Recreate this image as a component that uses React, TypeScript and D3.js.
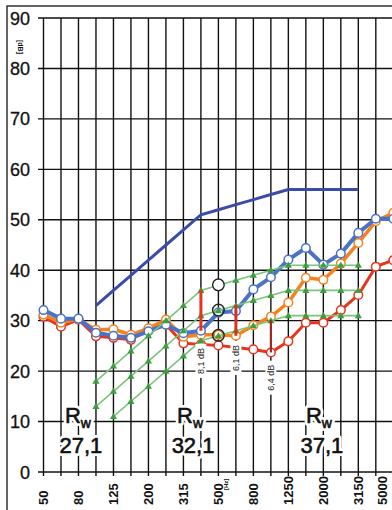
import React from "react";
import * as d3 from "d3";

// ---- data ----
const bands = ["50","63","80","100","125","160","200","250","315","400","500","630","800","1000","1250","1600","2000","2500","3150","4000","5000"];
const labeledBands = ["50","80","125","200","315","500","800","1250","2000","3150","5000"];
const yTicks = [0,10,20,30,40,50,60,70,80,90];

const blueMeasured = [32.1,30.4,30.4,27.6,27.0,26.6,27.9,29.2,27.5,28.0,31.6,31.9,36.2,38.6,42.1,44.4,41.1,43.3,47.4,50.2,50.2];
const orangeMeasured = [31.2,29.6,30.3,28.2,28.3,27.2,28.5,30.2,26.8,27.2,27.2,27.0,29.1,30.8,33.6,38.5,38.1,41.3,45.4,49.7,51.4];
const redMeasured = [30.8,28.8,30.2,26.9,26.6,26.2,28.3,29.2,25.5,25.3,25.1,24.7,24.3,23.7,25.9,29.6,29.6,32.1,35.1,40.7,42.0];

const refBands = ["100","125","160","200","250","315","400","500","630","800","1000","1250","1600","2000","2500","3150"];
const refCurve = [33,36,39,42,45,48,51,52,53,54,55,56,56,56,56,56];
const greenTop = [18,21,24,27,30,33,36,37,38,39,40,41,41,41,41,41];
const greenMid = [13,16,19,22,25,28,31,32,33,34,35,36,36,36,36,36];
const lowBands = ["125","160","200","250","315","400","500","630","800","1000","1250","1600","2000","2500","3150"];
const greenLow = [11,14,17,20,23,26,27,28,29,30,31,31,31,31,31];

const rwLabels = ["27,1","32,1","37,1"];
const rwPos = [2.14, 8.55, 15.92]; // band index position of label centre
const rwCircles = [37.1, 32.1, 27.1]; // at 500 Hz

const devBands = ["400","630","1000"];
const devTop = [36.1, 33.1, 30.1];
const devBottom = [28.0, 27.0, 23.7];
const devLabels = ["8,1 dB","6,1 dB","6,4 dB"];
const devLabelDb = [22.0, 22.6, 18.7];
const devColors = ["#e8321e","#dc2e24","#a02820"];

// ---- layout ----
const W = 392, H = 510;
const FONT = "'Liberation Sans', Arial, sans-serif";

export default function App() {
  const x = d3.scalePoint<string>().domain(bands).range([43.5, 393.3]);
  const xi = d3.scaleLinear().domain([0, bands.length - 1]).range([43.5, 393.3]);
  const y = d3.scaleLinear().domain([0, 90]).range([472, 18]);

  const lineB = d3.line<[string, number]>().x(d => x(d[0]) as number).y(d => y(d[1]));
  const zip = (bs: string[], vs: number[]) => bs.map((b, i) => [b, vs[i]] as [string, number]);

  const tri = d3.symbol().type(d3.symbolTriangle).size(22)() as string;

  const measured = [
    { vals: redMeasured, color: "#e8341c", w: 3 },
    { vals: orangeMeasured, color: "#f5821f", w: 3.5 },
    { vals: blueMeasured, color: "#4a72c6", w: 4 },
  ];
  const greens = [
    { bs: refBands, vals: greenTop },
    { bs: refBands, vals: greenMid },
    { bs: lowBands, vals: greenLow },
  ];

  const rwText = (cx: number, l: string, halo: boolean) => (
    <g
      fill={halo ? "#fff" : "#111"}
      stroke={halo ? "#fff" : "#111"}
      strokeWidth={halo ? 6 : 0.6}
      strokeLinejoin="round"
    >
      <text x={cx - 3} y={423} fontSize={22} textAnchor="middle">
        R<tspan fontSize={14} dy={5}>w</tspan>
      </text>
      <text x={cx} y={453} fontSize={22} textAnchor="middle">{l}</text>
    </g>
  );

  return (
    <svg width={W} height={H} style={{ position: "absolute", left: 0, top: 0, background: "#fff" }} fontFamily={FONT}>
      <rect x={0} y={0} width={W} height={H} fill="#fff" />
      {/* frame */}
      <rect x={7} y={6} width={W + 20} height={H + 20} fill="none" stroke="#333" strokeWidth={1.5} />
      {/* horizontal grid */}
      {yTicks.map(t => (
        <line key={"h" + t} x1={38} x2={W} y1={y(t)} y2={y(t)} stroke="#111" strokeWidth={1.4} />
      ))}
      {/* vertical grid */}
      {bands.map(b => (
        <line key={"v" + b} x1={x(b)} x2={x(b)} y1={y(90)} y2={y(0) + 4} stroke="#111" strokeWidth={1.4} />
      ))}
      {/* y labels */}
      {yTicks.map(t => (
        <text key={"yl" + t} x={30} y={y(t) + 6.5} fontSize={18} textAnchor="end" fill="#111" stroke="#111" strokeWidth={0.3}>{t}</text>
      ))}
      <text transform={`translate(18,40) rotate(90)`} fontSize={7} fontWeight="bold" fill="#111">[dB]</text>
      {/* x labels */}
      {labeledBands.map(b => {
        const px = Math.min(x(b) as number, 382);
        return (
          <text key={"xl" + b} transform={`translate(${px + 4.5},505) rotate(-90)`} fontSize={13} fontWeight="bold" fill="#111">{b}</text>
        );
      })}
      <text transform={`translate(${(x("500") as number) + 10},490) rotate(-90)`} fontSize={6} fontWeight="bold" fill="#111">[Hz]</text>

      {/* Rw labels with white halo */}
      {rwLabels.map((l, i) => (
        <g key={"rw" + i}>
          {rwText(xi(rwPos[i]), l, true)}
          {rwText(xi(rwPos[i]), l, false)}
        </g>
      ))}

      {/* reference curve */}
      <path d={lineB(zip(refBands, refCurve)) as string} fill="none" stroke="#3a4ba8" strokeWidth={3} />

      {/* measured curves */}
      {measured.map((m, k) => (
        <g key={"m" + k}>
          <path d={lineB(zip(bands, m.vals)) as string} fill="none" stroke={m.color} strokeWidth={m.w} strokeLinejoin="round" />
          {bands.map((b, i) => (
            <circle key={b} cx={x(b)} cy={y(m.vals[i])} r={4.3} fill="#fff" stroke={m.color} strokeWidth={1.5} />
          ))}
        </g>
      ))}

      {/* green shifted reference curves */}
      {greens.map((g, k) => (
        <g key={"g" + k}>
          <path d={lineB(zip(g.bs, g.vals)) as string} fill="none" stroke="#7cc47c" strokeWidth={1.6} />
          {g.bs.map((b, i) => (
            <path key={b} d={tri} transform={`translate(${x(b)},${y(g.vals[i]) + 0.5})`} fill="#3e9e3e" />
          ))}
        </g>
      ))}

      {/* deviation segments */}
      {devBands.map((b, i) => (
        <line key={"dv" + b} x1={x(b)} x2={x(b)} y1={y(devTop[i])} y2={y(devBottom[i])} stroke={devColors[i]} strokeWidth={i === 2 ? 2.2 : 3} />
      ))}
      {devBands.map((b, i) => {
        const cx = x(b) as number;
        const cy = y(devLabelDb[i]);
        return (
          <g key={"dl" + b}>
            <rect x={cx - 5.5} y={cy - 17} width={11} height={34} fill="#fff" />
            <text transform={`translate(${cx + 3.2},${cy}) rotate(-90)`} fontSize={9} textAnchor="middle" fill="#222">{devLabels[i]}</text>
          </g>
        );
      })}

      {/* Rw circles at 500 Hz */}
      {rwCircles.map((v, i) => (
        <circle key={"c" + i} cx={x("500")} cy={y(v)} r={5.8} fill={i === 0 ? "#fff" : "none"} stroke="#222" strokeWidth={1.4} />
      ))}
    </svg>
  );
}
